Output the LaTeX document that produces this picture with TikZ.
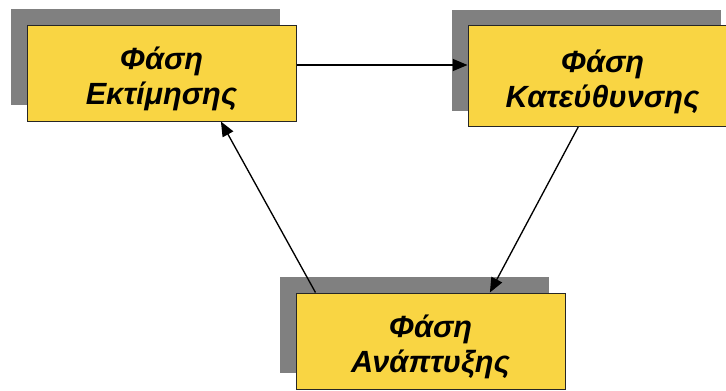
\documentclass[tikz,border=0pt]{standalone}
\usepackage{fontspec}
\setmainfont{Liberation Sans}
\usetikzlibrary{calc,shadows,arrows.meta}
\definecolor{phaseyellow}{RGB}{249,213,67}
\definecolor{shadowgray}{RGB}{128,128,128}
% two-line box label, first line pushed down a little
\newcommand\phasetext[2]{\rule{0pt}{26pt}#1\\#2}
\tikzset{
  phase/.style={shape=rectangle,draw=black!85,line width=0.75pt,fill=phaseyellow,
    minimum width=201.75pt,minimum height=72pt,inner sep=0pt,align=center,
    font=\fontsize{23}{26.3}\selectfont\bfseries\itshape,
    general shadow={fill=shadowgray,shadow xshift=-12pt,shadow yshift=12pt}},
  flow/.style={-{Triangle[length=11pt,width=9pt]},line width=1pt}
}

\begin{document}
\begin{tikzpicture}[x=0.75pt,y=-0.75pt]
\useasboundingbox (0,0) rectangle (726,390);
\path
(161.5,73) node [phase](ekt) {\phasetext{Φάση}{Εκτίμησης}}
(602.5,76) node [phase,minimum height=75.75pt](kat) {\phasetext{Φάση}{Κατεύθυνσης}}
(430.5,341) node [phase](anap) {\phasetext{Φάση}{Ανάπτυξης}};
\draw [flow]([yshift=6pt]ekt.east) --([yshift=6pt]ekt.east -| kat.west);
\draw [flow]($(kat.south west)!0.41!(kat.south east)$) --($(anap.north west)!0.72!(anap.north east)$);
\draw [flow]($(anap.north west)!0.074!(anap.north east)$) --($(ekt.south west)!0.72!(ekt.south east)$);

\end{tikzpicture}
\end{document}
